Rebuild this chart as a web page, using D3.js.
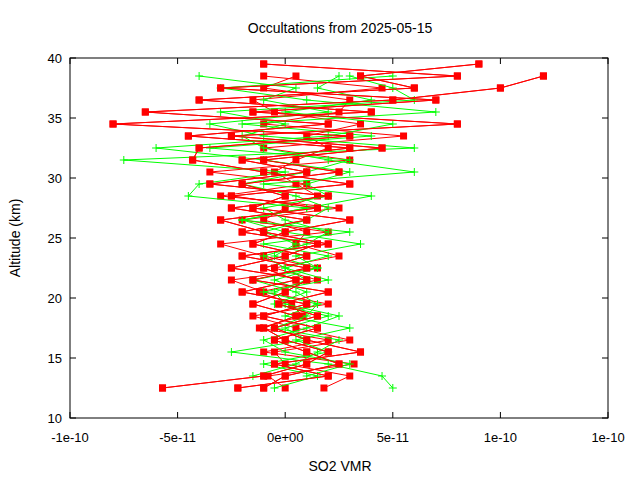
<!DOCTYPE html>
<html><head><meta charset="utf-8">
<script src="https://cdn.jsdelivr.net/npm/d3@7"></script>
<style>body{margin:0;background:#fff}text{font-family:"Liberation Sans",Arial,sans-serif}</style>
</head><body><svg></svg>
<script>
const width = 640, height = 480;
const margin = {left: 70, right: 32, top: 58, bottom: 62};
// altitude levels (km)
const altitudes = d3.range(12.5, 40, 1);
const xTicks = [-1e-10, -5e-11, 0, 5e-11, 1e-10, 1.5e-10];
const xTickLabels = ["-1e-10", "-5e-11", "0e+00", "5e-11", "1e-10", "1e-10"];
const yTicks = [10, 15, 20, 25, 30, 35, 40];
// SO2 VMR in units of 1e-11, one value per altitude level (null = missing)
const red1 = [-5.7,-1,1,2,0,-1,0.5,-1.5,0,1,-2.5,0,1.5,-2,1,-2.5,2,-3.5,1,-2,3,-4.5,2,-6.5,5,10,12,null];
const red2 = [-2.2,2,-0.5,3.5,1,-0.5,1.5,-0.3,2,-1.5,1,-2,2,-1,-3,1.5,-2.5,3,-1,-4.3,-4,3,-8,4,-4,6,3.5,9];
const red3 = [-1,0,2.5,1,-0.5,1.5,-1,1,-2,0.5,-1,1,-1.5,0,3,-1.5,0,-2,2.5,-1,4.5,-2.5,8,-1.5,7,-3,8,-1];
const red4 = [1.8,3,0,-0.5,3,0.5,-1.5,2,-1,-2.5,1.5,-1,-3,2,-2,2.5,-3,1,-3.5,3,-1,5.5,-1,2.5,3,-1,0.5,null];
const red5 = [0,-0.8,3.2,-1,2,-1.2,0.8,0.3,-1.2,1.5,-0.5,2.5,0.5,1,-1,0,1.5,0.5,-0.5,0.5,2,1,3.5,-0.5,-1.5,4.5,-1,null];
const green1 = [5,4.5,2,-2.5,1,0,2,-0.5,1,-0.5,1.5,0.5,3.5,0,-2,1,-4.5,-4,0,-7.5,6,-1,-3.5,2,-1,0.5,-4,null];
const green2 = [-0.5,1.5,-1,2,0.5,3,0,1.5,-1,2,0,-1,1,2,0,-1,2,1,3,-1,-6,2,5,0,4,1.5,2.5,null];
const green3 = [null,1,3,0,-1,1,2.5,0,-0.5,1,0,2,-1,3,-2,1,4,-1,6,2,-1,-2,0,-3,6,5,3,null];
const green4 = [null,-1.5,0.5,1.5,2.5,-0.5,1,1.5,0.5,-1.5,1.5,-0.5,0.5,-1,1,2,0.5,-2,1,3,-3.5,4,-2,7,1,-3,5,null];
const redSeries = [red1, red2, red3, red4, red5];
const greenSeries = [green1, green2, green3, green4];

const svg = d3.select("svg").attr("width", width).attr("height", height);
const x = d3.scaleLinear().domain([-1e-10, 1.5e-10]).range([margin.left, width - margin.right]);
const y = d3.scaleLinear().domain([10, 40]).range([height - margin.bottom, margin.top]);

// axes box and ticks
svg.append("rect").attr("x", margin.left).attr("y", margin.top)
    .attr("width", width - margin.left - margin.right).attr("height", height - margin.top - margin.bottom)
    .attr("fill", "none").attr("stroke", "#000");
xTicks.forEach((t, i) => {
    svg.append("line").attr("x1", x(t)).attr("x2", x(t)).attr("y1", y(10)).attr("y2", y(10) - 6).attr("stroke", "#000");
    svg.append("line").attr("x1", x(t)).attr("x2", x(t)).attr("y1", y(40)).attr("y2", y(40) + 6).attr("stroke", "#000");
    svg.append("text").attr("x", x(t)).attr("y", y(10) + 24).attr("text-anchor", "middle").attr("font-size", 13).text(xTickLabels[i]);
});
yTicks.forEach(t => {
    svg.append("line").attr("x1", margin.left).attr("x2", margin.left + 6).attr("y1", y(t)).attr("y2", y(t)).attr("stroke", "#000");
    svg.append("line").attr("x1", width - margin.right).attr("x2", width - margin.right - 6).attr("y1", y(t)).attr("y2", y(t)).attr("stroke", "#000");
    svg.append("text").attr("x", margin.left - 8).attr("y", y(t) + 5).attr("text-anchor", "end").attr("font-size", 13).text(t);
});

function drawProfile(vals, color, marker) {
    const pts = vals.map((v, i) => ({v: v, a: altitudes[i]})).filter(d => d.v !== null);
    const line = d3.line().x(d => x(d.v * 1e-11)).y(d => y(d.a));
    svg.append("path").attr("d", line(pts)).attr("fill", "none").attr("stroke", color).attr("stroke-width", 1);
    pts.forEach(d => {
        const cx = x(d.v * 1e-11), cy = y(d.a);
        if (marker === "square") {
            svg.append("rect").attr("x", cx - 3.5).attr("y", cy - 3.5).attr("width", 7).attr("height", 7).attr("fill", color);
        } else {
            svg.append("path").attr("d", `M${cx - 4},${cy}H${cx + 4}M${cx},${cy - 4}V${cy + 4}`).attr("stroke", color);
        }
    });
}
redSeries.forEach(s => drawProfile(s, "#ff0000", "square"));
greenSeries.forEach(s => drawProfile(s, "#00ff00", "plus"));
redSeries.slice(0, 3).forEach(s => drawProfile(s, "#ff0000", "square"));

svg.append("text").attr("x", 340).attr("y", 33).attr("text-anchor", "middle").attr("font-size", 14).text("Occultations from 2025-05-15");
svg.append("text").attr("x", 340).attr("y", 471).attr("text-anchor", "middle").attr("font-size", 14).text("SO2 VMR");
svg.append("text").attr("transform", `translate(20,${(margin.top + height - margin.bottom) / 2}) rotate(-90)`)
    .attr("text-anchor", "middle").attr("font-size", 14).text("Altitude (km)");
</script></body></html>
